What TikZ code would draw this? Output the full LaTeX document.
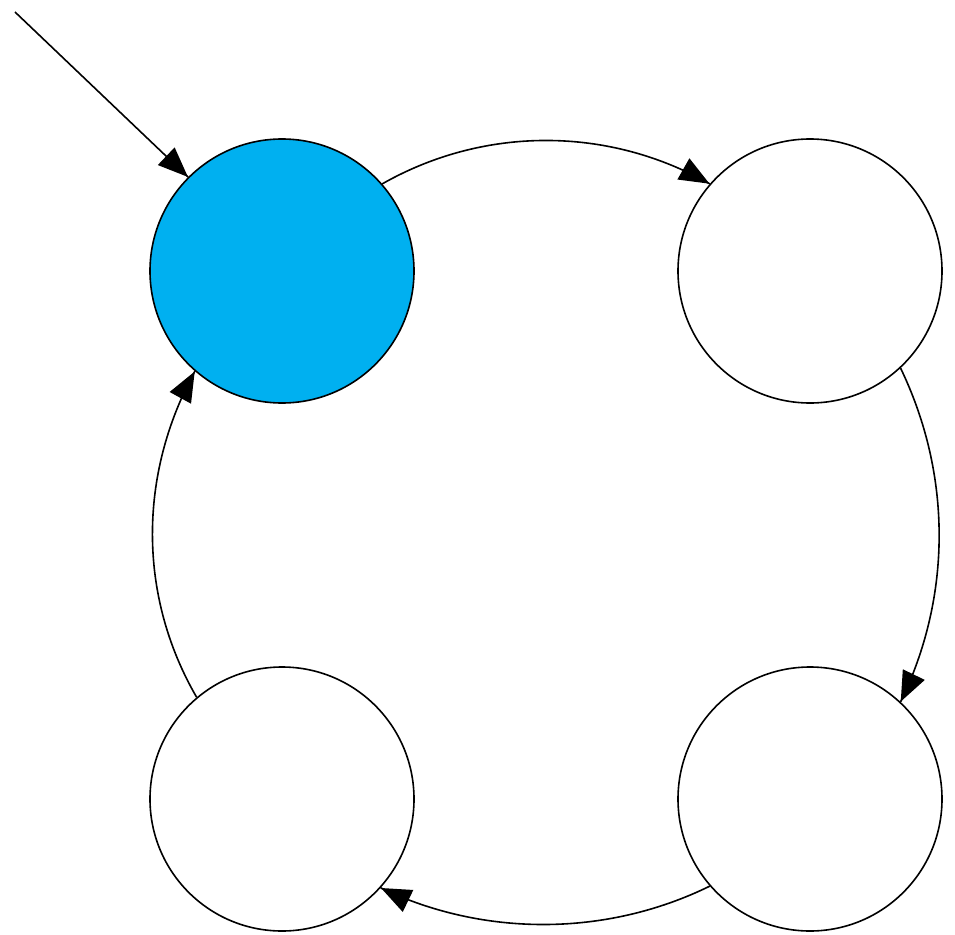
\documentclass[tikz,border=0pt]{standalone}
\usetikzlibrary{arrows.meta,decorations.markings}
\definecolor{statefill}{HTML}{00B0F0}
\begin{document}
\begin{tikzpicture}[x=1pt,y=-1pt,
  state/.style={circle,draw=black,line width=1.6pt,minimum size=264pt,inner sep=0pt},
  edge/.style={line width=1.6pt,postaction={decorate},
    decoration={markings,mark=at position 0.999 with {\arrow{Triangle[length=30pt,width=24pt]}}}}]
\useasboundingbox (0,0) rectangle (955,934);
\node[state,fill=statefill] (s0) at (282,271) {};
\node[state] (s1) at (810,271) {};
\node[state] (s2) at (810,799) {};
\node[state] (s3) at (282,799) {};
\coordinate (init) at (15,12);
\draw[edge] (init) -- (s0.135);
\draw[edge] (s0.41) .. controls (484,126) and (608,126) .. (s1.139);
\draw[edge] (s1.-47) .. controls (952,475) and (952,596) .. (s2.47);
\draw[edge] (s2.-139) .. controls (606,937) and (483,937) .. (s3.-42);
\draw[edge] (s3.130) .. controls (138,596) and (138,475) .. (s0.-131);
\end{tikzpicture}
\end{document}
